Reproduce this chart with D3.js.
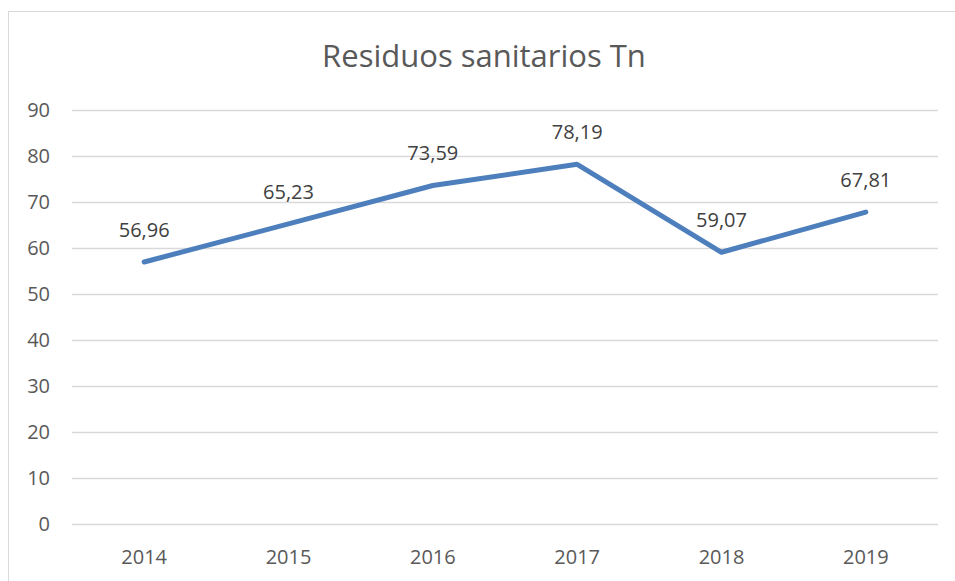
<!DOCTYPE html>
<html><head><meta charset="utf-8">
<script src="https://cdn.jsdelivr.net/npm/d3@7"></script>
<style>body{margin:0;background:#fff}svg{display:block}</style>
</head><body>
<script>
const categories = ["2014","2015","2016","2017","2018","2019"];
const values = [56.96,65.23,73.59,78.19,59.07,67.81];
const yTicks = [0,10,20,30,40,50,60,70,80,90];
const title = "Residuos sanitarios Tn";

(function(){
const W=955,H=581;
const svg=d3.select("body").append("svg").attr("width",W).attr("height",H);
svg.append("rect").attr("x",8.5).attr("y",11.5).attr("width",W).attr("height",H).attr("fill","#fff").attr("stroke","#d9d9d9");
const font="'Open Sans', 'Noto Sans', sans-serif";
const pLeft=72,pRight=938,pTop=110,pBottom=524;
const x=d3.scaleBand().domain(categories).range([pLeft,pRight]);
const y=d3.scaleLinear().domain([0,90]).range([pBottom,pTop]);

svg.append("text").attr("x",484).attr("y",67).attr("text-anchor","middle").attr("font-family",font).attr("font-size",31).attr("fill","#595959").text(title);

const g=svg.append("g");
g.selectAll("line.grid").data(yTicks).join("line").attr("x1",pLeft).attr("x2",pRight)
 .attr("y1",d=>Math.round(y(d))+0.5).attr("y2",d=>Math.round(y(d))+0.5).attr("stroke","#d9d9d9").attr("stroke-width",1.3);
g.selectAll("text.yt").data(yTicks).join("text").attr("x",50).attr("y",d=>y(d)+7)
 .attr("text-anchor","end").attr("font-family",font).attr("font-size",20).attr("fill","#595959").text(d=>d);
g.selectAll("text.xt").data(categories).join("text").attr("x",d=>x(d)+x.bandwidth()/2).attr("y",564)
 .attr("text-anchor","middle").attr("font-family",font).attr("font-size",20).attr("fill","#595959").text(d=>d);

const line=d3.line().x((d,i)=>x(categories[i])+x.bandwidth()/2).y(d=>y(d));
g.append("path").datum(values).attr("d",line).attr("fill","none").attr("stroke","#4e7fbd").attr("stroke-width",5).attr("stroke-linejoin","round").attr("stroke-linecap","round");
g.selectAll("text.lbl").data(values).join("text").attr("x",(d,i)=>x(categories[i])+x.bandwidth()/2).attr("y",d=>y(d)-25)
 .attr("text-anchor","middle").attr("font-family",font).attr("font-size",20).attr("fill","#404040").text(d=>d.toFixed(2).replace(".",","));
})();
</script>
</body></html>
